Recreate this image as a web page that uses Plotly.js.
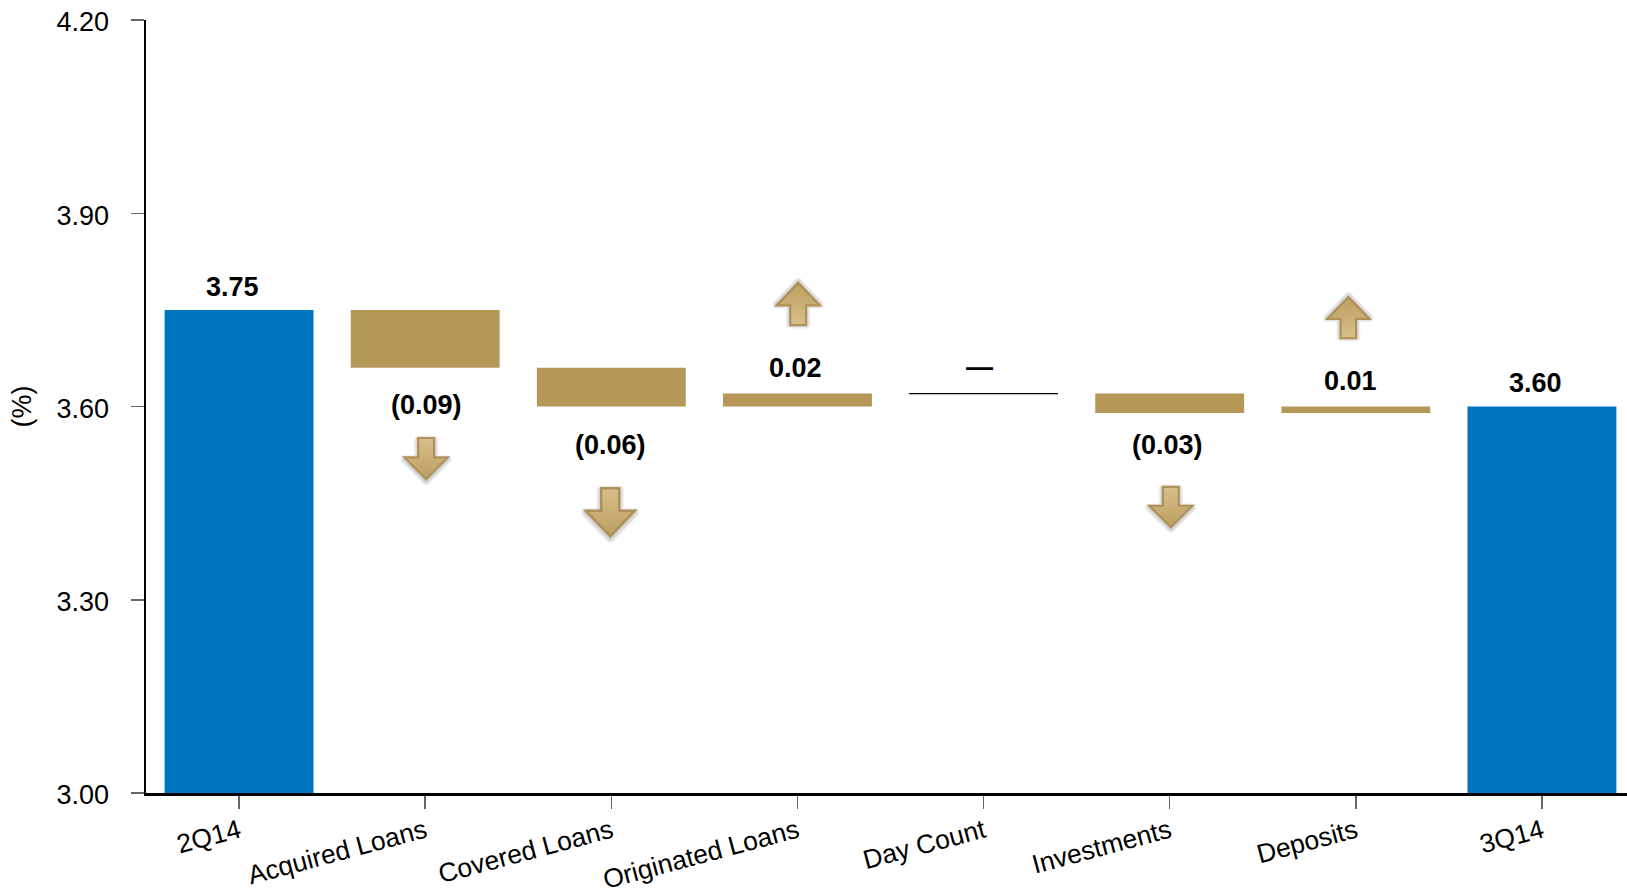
<!DOCTYPE html>
<html><head><meta charset="utf-8">
<script src="https://cdn.plot.ly/plotly-3.0.1.min.js"></script>
<style>html,body{margin:0;padding:0;background:#fff;overflow:hidden}</style>
</head><body><div id="chart" style="width:1627px;height:892px"></div>
<script>
const categories = ['2Q14','Acquired Loans','Covered Loans','Originated Loans','Day Count','Investments','Deposits','3Q14'];
const barBase    = [3.00, 3.66, 3.60, 3.60, 3.62, 3.59, 3.59, 3.00];
const barHeight  = [0.75, 0.09, 0.06, 0.02, 0.00, 0.03, 0.01, 0.60];
const barKind    = ['total','change','change','change','none','change','change','total'];
const labelText  = ['3.75','(0.09)','(0.06)','0.02','—','(0.03)','0.01','3.60'];
const labelX     = [-0.035, 1.009, 1.998, 2.992, 3.978, 4.990, 5.969, 6.967];
const labelY     = [3.786, 3.603, 3.541, 3.660, 3.661, 3.541, 3.640, 3.637];
const yTicks     = [3.00, 3.30, 3.60, 3.90, 4.20];
const arrowDir   = ['down','down','up','down','up'];
const arrowX     = [1.005, 1.994, 3.004, 5.006, 5.960];
const arrowY     = [3.519, 3.436, 3.759, 3.444, 3.738];

const BLUE='#0075BF', GOLD='#B59858';
const FONT='"Liberation Sans", Arial, sans-serif';
const pxX=1/186.1, pxY=1.2/773;
const arrowW=[44,50,44,44,43], arrowH=[43,50,44,42,43];

function arrowSvg(dir){
  const pts = dir==='down'
    ? '32,2 68,2 68,47 99,47 50,98 1,47 32,47'
    : '32,98 68,98 68,53 99,53 50,2 1,53 32,53';
  const dy = dir==='down'?4:-2;
  const glow = [20,16,12,8,4].map(w =>
    `<polygon points="${pts}" fill="none" stroke="#444" stroke-opacity="0.06" stroke-width="${w}" stroke-linejoin="round" transform="translate(0,${dy})"/>`
  ).join('');
  const svg = `<svg xmlns="http://www.w3.org/2000/svg" width="260" height="260" viewBox="-30 -30 160 160">
<defs><linearGradient id="g" x1="0" y1="${dir==='down'?0:1}" x2="0" y2="${dir==='down'?1:0}">
<stop offset="0" stop-color="#D8C08B"/><stop offset="1" stop-color="#BC9E60"/></linearGradient></defs>
${glow}
<polygon points="${pts}" fill="url(#g)" stroke="#AE9158" stroke-width="5" stroke-linejoin="miter"/></svg>`;
  return 'data:image/svg+xml;base64,'+btoa(svg);
}

const trace = {
  type:'bar',
  x: categories.map((_,i)=>i),
  y: barHeight,
  base: barBase,
  width: 0.8,
  hoverinfo:'skip',
  marker:{
    color: barKind.map(k=>k==='total'?BLUE:k==='change'?GOLD:'#000'),
    line:{ color: barKind.map(k=>k==='none'?'#000':'rgba(0,0,0,0)'),
           width: barKind.map(k=>k==='none'?1.2:0) }
  }
};

const layout = {
  width:1627, height:892,
  margin:{l:146.2, r:0, t:20, b:98.5, pad:0},
  paper_bgcolor:'#fff', plot_bgcolor:'#fff',
  showlegend:false, bargap:0.2,
  font:{family:FONT, size:26, color:'#000'},
  xaxis:{
    type:'linear', range:[-0.5,7.457], fixedrange:true,
    tickmode:'array', tickvals:categories.map((_,i)=>i), ticktext:categories,
    tickangle:-15, ticks:'outside', ticklen:13, tickwidth:1.5, tickcolor:'#666',
    ticklabelstandoff:-3,
    showgrid:false, zeroline:false, showline:true, linecolor:'#000', linewidth:2.5,
    tickfont:{family:FONT,size:26.5,color:'#000'}, automargin:false
  },
  yaxis:{
    range:[3,4.2], fixedrange:true,
    tickmode:'array', tickvals:yTicks, ticktext:yTicks.map(v=>v.toFixed(2)),
    ticks:'outside', ticklen:13, tickwidth:1.5, tickcolor:'#666',
    ticklabelstandoff:16, ticklabelshift:2,
    showgrid:false, zeroline:false, showline:true, linecolor:'#000', linewidth:2.5,
    tickfont:{family:FONT,size:27,color:'#000'}, automargin:false,
    title:{text:'(%)', font:{family:FONT,size:27,color:'#000'}, standoff:17}
  },
  annotations: labelText.map((t,i)=>({
    x:labelX[i], y:labelY[i], xref:'x', yref:'y', text:t, showarrow:false,
    xanchor:'center', yanchor:'middle',
    font:{family:FONT,size:27,color:'#000',weight:'bold'}
  })),
  images: arrowDir.map((d,i)=>({
    source:arrowSvg(d), xref:'x', yref:'y',
    x:arrowX[i], y:arrowY[i],
    sizex:arrowW[i]*1.6*pxX, sizey:arrowH[i]*1.6*pxY,
    xanchor:'center', yanchor:'middle', sizing:'stretch', layer:'above'
  }))
};
Plotly.newPlot('chart',[trace],layout,{staticPlot:true,displayModeBar:false});
</script></body></html>
